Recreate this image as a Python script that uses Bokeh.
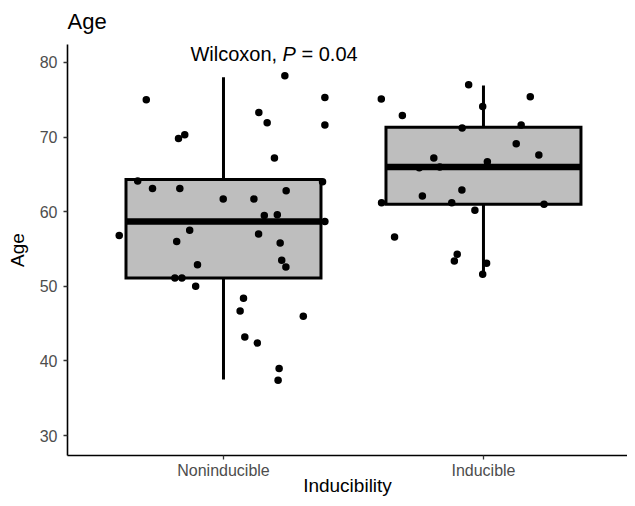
from bokeh.plotting import figure
from bokeh.models import FixedTicker, Label, ColumnDataSource
from bokeh.embed import file_html
from bokeh.resources import INLINE

# ---- data ----
categories = ["Noninducible", "Inducible"]
cat_pos = [1, 2]

# box statistics
q1 = [51.1, 61.0]
median = [58.7, 66.0]
q3 = [64.3, 71.3]
whisker_low = [37.5, 51.6]
whisker_high = [78.0, 76.9]

# Noninducible points: jitter offset (category units) and age
non_jitter = [-0.297, -0.173, -0.149, -0.330, -0.273, -0.168, -0.001, 0.117, 0.157, 0.207,
              0.241, 0.136, 0.168, 0.196, 0.236, 0.390, 0.390, 0.381, 0.390, -0.401,
              -0.180, -0.130, -0.100, -0.187, -0.160, -0.107, 0.135, 0.218, 0.224, 0.240,
              0.077, 0.064, 0.307, 0.082, 0.130, 0.214, 0.210]
non_age = [75.0, 69.8, 70.3, 64.1, 63.1, 63.1, 61.7, 61.7, 59.5, 59.6,
           62.8, 73.3, 71.9, 67.2, 78.2, 75.3, 71.6, 64.0, 58.7, 56.8,
           56.0, 57.5, 52.9, 51.1, 51.1, 50.0, 57.0, 55.8, 53.5, 52.6,
           48.4, 46.7, 46.0, 43.2, 42.4, 39.0, 37.4]

# Inducible points
ind_jitter = [-0.393, -0.312, -0.057, -0.003, 0.180, 0.145, -0.082, 0.126, 0.213, -0.191,
              -0.247, -0.168, 0.015, -0.083, -0.235, -0.122, -0.392, 0.233, -0.033, -0.342,
              -0.101, -0.112, 0.012, -0.003]
ind_age = [75.1, 72.9, 77.0, 74.1, 75.4, 71.6, 71.2, 69.1, 67.6, 67.2,
           65.9, 66.0, 66.7, 62.9, 62.1, 61.2, 61.2, 61.0, 60.2, 56.6,
           54.3, 53.4, 53.1, 51.6]

y_ticks = [30, 40, 50, 60, 70, 80]
pvalue_label = "0.04"

FONT = "Liberation Sans"

p = figure(width=627, height=498, x_range=(0.4, 2.554), y_range=(27.33, 82.4),
           output_backend="svg", toolbar_location=None, title="Age",
           min_border_left=67, min_border_right=0, min_border_top=42, min_border_bottom=43)

p.title.text_font = FONT
p.title.text_font_size = "22px"
p.title.text_font_style = "normal"
p.title.text_color = "black"
p.title.offset = 0
p.title.standoff = 17
p.title.vertical_align = "top"

p.outline_line_color = None
p.xgrid.grid_line_color = None
p.ygrid.grid_line_color = None
p.background_fill_color = "white"
p.border_fill_color = "white"

for ax in (p.xaxis[0], p.yaxis[0]):
    ax.axis_line_color = "black"
    ax.axis_line_width = 1.6
    ax.major_tick_line_color = "#333333"
    ax.major_tick_line_width = 1.3
    ax.major_tick_in = 0
    ax.major_tick_out = 4
    ax.minor_tick_line_color = None
    ax.major_label_text_font = FONT
    ax.major_label_text_font_size = "16px"
    ax.major_label_text_color = "#4D4D4D"
    ax.axis_label_text_font = FONT
    ax.axis_label_text_font_size = "19px"
    ax.axis_label_text_font_style = "normal"
    ax.axis_label_text_color = "black"

p.xaxis.ticker = FixedTicker(ticks=cat_pos)
p.xaxis.major_label_overrides = {c: n for c, n in zip(cat_pos, categories)}
p.xaxis.axis_label = "Inducibility"
p.xaxis.major_label_standoff = 2
p.xaxis.axis_label_standoff = -7

p.yaxis.ticker = FixedTicker(ticks=y_ticks)
p.yaxis.axis_label = "Age"
p.yaxis.major_label_standoff = 6
p.yaxis.axis_label_standoff = 9

# boxes
half = 0.375
box_src = ColumnDataSource(dict(
    x=cat_pos,
    left=[c - half for c in cat_pos], right=[c + half for c in cat_pos],
    q1=q1, q3=q3, med=median, lo=whisker_low, hi=whisker_high))

p.segment(x0="x", y0="q3", x1="x", y1="hi", source=box_src, line_color="black", line_width=3)
p.segment(x0="x", y0="lo", x1="x", y1="q1", source=box_src, line_color="black", line_width=3)
p.quad(left="left", right="right", bottom="q1", top="q3", source=box_src,
       fill_color="#BEBEBE", line_color="black", line_width=3, line_join="miter")
p.segment(x0="left", y0="med", x1="right", y1="med", source=box_src,
          line_color="black", line_width=6.5)

# points
px = [cat_pos[0] + j for j in non_jitter] + [cat_pos[1] + j for j in ind_jitter]
py = non_age + ind_age
p.scatter(px, py, size=7.5, fill_color="black", line_color="black", line_width=0)

# Wilcoxon annotation
tx, ty = 0.873, 81.15
fs = "20px"
p.add_layout(Label(x=tx, y=ty, text="Wilcoxon,", text_font=FONT, text_font_size=fs,
                   text_color="black", text_baseline="alphabetic", text_align="left"))
p.add_layout(Label(x=tx, y=ty, x_offset=92, text="P", text_font=FONT, text_font_size=fs,
                   text_font_style="italic", text_color="black",
                   text_baseline="alphabetic", text_align="left"))
p.add_layout(Label(x=tx, y=ty, x_offset=111, text="= " + pvalue_label, text_font=FONT,
                   text_font_size=fs, text_color="black",
                   text_baseline="alphabetic", text_align="left"))

open("out.html", "w").write(file_html(p, INLINE))
